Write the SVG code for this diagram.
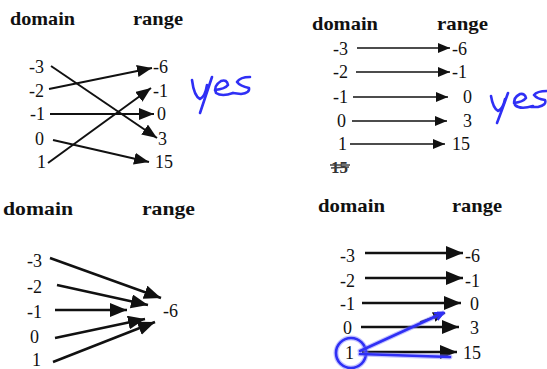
<svg xmlns="http://www.w3.org/2000/svg" width="547" height="369" viewBox="0 0 547 369" font-family="Liberation Serif, DejaVu Serif, serif">
<style>
.h{font-weight:bold;font-size:19px;fill:#111}
.n{font-size:18px;fill:#111}
.c1{stroke:#111;stroke-width:2;fill:none}
.c2{stroke:#111;stroke-width:1.5;fill:none}
.c3{stroke:#111;stroke-width:2.5;fill:none}
.ink{stroke:#2f2ff5;stroke-width:2.6;fill:none;stroke-linecap:round;stroke-linejoin:round}
.halo{stroke:#7a7aff;stroke-width:5;fill:none;opacity:0.45;stroke-linecap:round;stroke-linejoin:round}
</style>
<defs>
<marker id="mA" markerUnits="userSpaceOnUse" markerWidth="16" markerHeight="13" refX="15" refY="6" orient="auto"><path d="M0,0 L15,6 L0,12 z" fill="#111"/></marker>
<marker id="mB" markerUnits="userSpaceOnUse" markerWidth="13" markerHeight="11" refX="12" refY="5" orient="auto"><path d="M0,0 L12,5 L0,10 z" fill="#111"/></marker>
<marker id="mC" markerUnits="userSpaceOnUse" markerWidth="18" markerHeight="15" refX="17" refY="7" orient="auto"><path d="M0,0 L17,7 L0,14 z" fill="#111"/></marker>
<marker id="mBlue" markerUnits="userSpaceOnUse" markerWidth="10" markerHeight="10" refX="8" refY="4" orient="auto"><path d="M0,0 L8,4 L0,8" fill="none" stroke="#2f2ff5" stroke-width="2.5"/></marker>
</defs>
<rect width="547" height="369" fill="#fff"/>

<g id="panel1">
<text class="h" x="10" y="25" textLength="65" lengthAdjust="spacingAndGlyphs">domain</text>
<text class="h" x="133" y="25" textLength="50" lengthAdjust="spacingAndGlyphs">range</text>
<g id="p1-d-3"><text class="n" x="29" y="73">-3</text></g>
<g id="p1-d-2"><text class="n" x="29" y="97">-2</text></g>
<g id="p1-d-1"><text class="n" x="30" y="120">-1</text></g>
<g id="p1-d0"><text class="n" x="35" y="145">0</text></g>
<g id="p1-d1"><text class="n" x="37" y="168">1</text></g>
<g id="p1-r-6"><text class="n" x="153" y="73">-6</text></g>
<g id="p1-r-1"><text class="n" x="153" y="97">-1</text></g>
<g id="p1-r0"><text class="n" x="157" y="120">0</text></g>
<g id="p1-r3"><text class="n" x="158" y="145">3</text></g>
<g id="p1-r15"><text class="n" x="155" y="168">15</text></g>
<g id="p1-yes">
<path class="ink" d="M192,80 Q194,96 200,99 Q205,97 207,85"/>
<path class="ink" d="M212,77 Q206,95 200,113"/>
<path class="ink" d="M215,90 Q225,89 228,85 Q227,79 221,81 Q213,86 216,93 Q222,97 233,93"/>
<path class="ink" d="M250,77 Q240,77 237,82 Q240,86 249,88 Q250,93 241,94 L233,93"/>
</g>
</g>

<g id="panel2">
<text class="h" x="312" y="30" textLength="66" lengthAdjust="spacingAndGlyphs">domain</text>
<text class="h" x="437" y="30" textLength="51" lengthAdjust="spacingAndGlyphs">range</text>
<g id="p2-d-3"><text class="n" x="333" y="55">-3</text></g>
<g id="p2-d-2"><text class="n" x="333" y="78">-2</text></g>
<g id="p2-d-1"><text class="n" x="333" y="103">-1</text></g>
<g id="p2-d0"><text class="n" x="337" y="127">0</text></g>
<g id="p2-d1"><text class="n" x="338" y="150">1</text></g>
<g id="p2-r-6"><text class="n" x="452" y="55">-6</text></g>
<g id="p2-r-1"><text class="n" x="452" y="78">-1</text></g>
<g id="p2-r0"><text class="n" x="463" y="103">0</text></g>
<g id="p2-r3"><text class="n" x="463" y="127">3</text></g>
<g id="p2-r15"><text class="n" x="452" y="150">15</text></g>
<g id="p2-scribble">
<text class="h" x="331" y="173" style="font-size:17px;fill:#333">15</text>
<path d="M330,165 L350,165 M331,168 L349,167" stroke="#444" stroke-width="1.5" fill="none"/>
</g>
<g id="p2-yes">
<path class="ink" d="M491,96 Q493,108 498,111 Q503,109 505,99"/>
<path class="ink" d="M508,93 Q502,110 497,123"/>
<path class="ink" d="M514,103 Q523,102 526,98 Q525,93 520,94 Q512,98 515,105 Q520,110 533,106"/>
<path class="ink" d="M547,91 Q537,91 534,95 Q537,99 545,100 Q547,105 538,107 L531,107"/>
</g>
</g>

<g id="panel3">
<text class="h" x="3" y="215" textLength="70" lengthAdjust="spacingAndGlyphs">domain</text>
<text class="h" x="142" y="215" textLength="53" lengthAdjust="spacingAndGlyphs">range</text>
<g id="p3-d-3"><text class="n" x="27" y="267">-3</text></g>
<g id="p3-d-2"><text class="n" x="27" y="293">-2</text></g>
<g id="p3-d-1"><text class="n" x="27" y="318">-1</text></g>
<g id="p3-d0"><text class="n" x="30" y="343">0</text></g>
<g id="p3-d1"><text class="n" x="32" y="366">1</text></g>
<g id="p3-r-6"><text class="n" x="163" y="317">-6</text></g>
</g>

<g id="panel4">
<text class="h" x="318" y="212" textLength="67" lengthAdjust="spacingAndGlyphs">domain</text>
<text class="h" x="452" y="212" textLength="50" lengthAdjust="spacingAndGlyphs">range</text>
<g id="p4-d-3"><text class="n" x="340" y="262">-3</text></g>
<g id="p4-d-2"><text class="n" x="340" y="287">-2</text></g>
<g id="p4-d-1"><text class="n" x="340" y="310">-1</text></g>
<g id="p4-d0"><text class="n" x="343" y="334">0</text></g>
<g id="p4-d1"><text class="n" x="345" y="359">1</text></g>
<g id="p4-r-6"><text class="n" x="465" y="262">-6</text></g>
<g id="p4-r-1"><text class="n" x="465" y="287">-1</text></g>
<g id="p4-r0"><text class="n" x="470" y="310">0</text></g>
<g id="p4-r3"><text class="n" x="470" y="334">3</text></g>
<g id="p4-r15"><text class="n" x="463" y="359">15</text></g>
</g>

<g id="connectors">
<line class="c1" x1="51" y1="66" x2="157" y2="138" marker-end="url(#mA)"/>
<line class="c1" x1="49" y1="89" x2="152" y2="68" marker-end="url(#mA)"/>
<line class="c1" x1="50" y1="114" x2="154" y2="114" marker-end="url(#mA)"/>
<line class="c1" x1="53" y1="140" x2="149" y2="162" marker-end="url(#mA)"/>
<line class="c1" x1="48" y1="163" x2="151" y2="88" marker-end="url(#mA)"/>
<line class="c2" x1="357" y1="48" x2="450" y2="48" marker-end="url(#mB)"/>
<line class="c2" x1="356" y1="72" x2="450" y2="72" marker-end="url(#mB)"/>
<line class="c2" x1="353" y1="97" x2="448" y2="97" marker-end="url(#mB)"/>
<line class="c2" x1="352" y1="121" x2="447" y2="121" marker-end="url(#mB)"/>
<line class="c2" x1="350" y1="144" x2="445" y2="144" marker-end="url(#mB)"/>
<line class="c3" x1="50" y1="258" x2="161" y2="298" marker-end="url(#mC)"/>
<line class="c3" x1="57" y1="285" x2="148" y2="305" marker-end="url(#mC)"/>
<line class="c3" x1="55" y1="310" x2="127" y2="310" marker-end="url(#mC)"/>
<line class="c3" x1="55" y1="338" x2="145" y2="319" marker-end="url(#mC)"/>
<line class="c3" x1="53" y1="362" x2="155" y2="322" marker-end="url(#mC)"/>
<line class="c3" x1="365" y1="253" x2="463" y2="253" marker-end="url(#mC)"/>
<line class="c3" x1="365" y1="278" x2="463" y2="278" marker-end="url(#mC)"/>
<line class="c3" x1="362" y1="303" x2="461" y2="303" marker-end="url(#mC)"/>
<line class="c3" x1="361" y1="327" x2="459" y2="327" marker-end="url(#mC)"/>
<line class="c3" x1="362" y1="352" x2="457" y2="352" marker-end="url(#mC)"/>
<line class="c2" x1="420" y1="322" x2="445" y2="313" marker-end="url(#mB)"/>
</g>

<g id="blue-marks">
<ellipse class="halo" cx="351" cy="353" rx="15" ry="15"/>
<ellipse class="ink" cx="351" cy="353" rx="15" ry="15"/>
<path class="halo" d="M360,351 L443,313 M360,354 L450,357"/>
<path class="ink" d="M360,351 L443,313" marker-end="url(#mBlue)"/>
<path class="ink" d="M360,354 L450,357"/>
</g>
</svg>
